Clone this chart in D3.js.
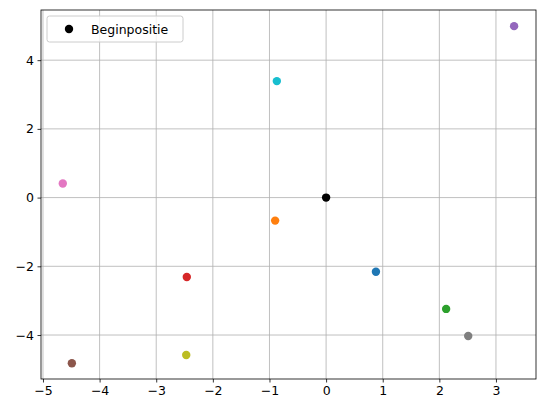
<!DOCTYPE html>
<html><head><meta charset="utf-8">
<script src="https://cdn.jsdelivr.net/npm/d3@7"></script>
<style>body{margin:0;background:#fff}text{font-family:"DejaVu Sans",sans-serif}</style>
</head><body>
<script>
// end positions, tab10 colour order
var xs = [0.88, -0.90, 2.12, -2.46, 3.32, -4.49, -4.65, 2.51, -2.47, -0.87];
var ys = [-2.16, -0.67, -3.24, -2.31, 4.99, -4.82, 0.41, -4.03, -4.58, 3.39];
var colors = ["#1f77b4","#ff7f0e","#2ca02c","#d62728","#9467bd","#8c564b","#e377c2","#7f7f7f","#bcbd22","#17becf"];
var xTicks = [-5,-4,-3,-2,-1,0,1,2,3];
var yTicks = [-4,-2,0,2,4];
var legendLabel = "Beginpositie";

var width = 546, height = 413,
    m = {left: 41, right: 10, top: 10, bottom: 34};

var svg = d3.select("body").append("svg")
    .attr("width", width).attr("height", height);

var x = d3.scaleLinear().domain([-5.035, 3.707]).range([m.left, width - m.right]);
var y = d3.scaleLinear().domain([-5.28, 5.46]).range([height - m.bottom, m.top]);

// grid
svg.append("g").selectAll("line").data(xTicks).enter().append("line")
    .attr("x1", x).attr("x2", x).attr("y1", m.top).attr("y2", height - m.bottom)
    .attr("stroke", "#b0b0b0").attr("stroke-width", 0.8);
svg.append("g").selectAll("line").data(yTicks).enter().append("line")
    .attr("y1", y).attr("y2", y).attr("x1", m.left).attr("x2", width - m.right)
    .attr("stroke", "#b0b0b0").attr("stroke-width", 0.8);

var xAxis = svg.append("g").attr("transform", "translate(0," + (height - m.bottom) + ")")
    .call(d3.axisBottom(x).tickValues(xTicks).tickSize(3.5).tickPadding(3.5).tickFormat(function(d){return d < 0 ? "\u2212" + (-d) : d;}));
var yAxis = svg.append("g").attr("transform", "translate(" + m.left + ",0)")
    .call(d3.axisLeft(y).tickValues(yTicks).tickSize(3.5).tickPadding(3.5).tickFormat(function(d){return d < 0 ? "\u2212" + (-d) : d;}));
[xAxis, yAxis].forEach(function(a){
  a.select(".domain").remove();
  a.selectAll("text").attr("font-size", 12.5).attr("fill", "#000").style("font-family", "DejaVu Sans");
  a.selectAll("line").attr("stroke", "#000").attr("stroke-width", 0.8);
});

svg.append("rect").attr("x", m.left).attr("y", m.top)
    .attr("width", width - m.left - m.right).attr("height", height - m.top - m.bottom)
    .attr("fill", "none").attr("stroke", "#000").attr("stroke-width", 0.8);

svg.append("g").selectAll("circle").data(xs).enter().append("circle")
    .attr("cx", function(d){return x(d);})
    .attr("cy", function(d, i){return y(ys[i]);})
    .attr("r", 4.2)
    .attr("fill", function(d, i){return colors[i];});

svg.append("circle").attr("cx", x(0)).attr("cy", y(0)).attr("r", 4.2).attr("fill", "#000");

// legend
var lg = svg.append("g").attr("transform", "translate(47,16)");
lg.append("rect").attr("width", 136).attr("height", 26).attr("rx", 2.5)
    .attr("fill", "#fff").attr("fill-opacity", 0.8).attr("stroke", "#ccc");
lg.append("circle").attr("cx", 22).attr("cy", 13).attr("r", 4.2).attr("fill", "#000");
lg.append("text").attr("x", 44).attr("y", 17.5).attr("font-size", 12.5).text(legendLabel);
</script>
</body></html>
